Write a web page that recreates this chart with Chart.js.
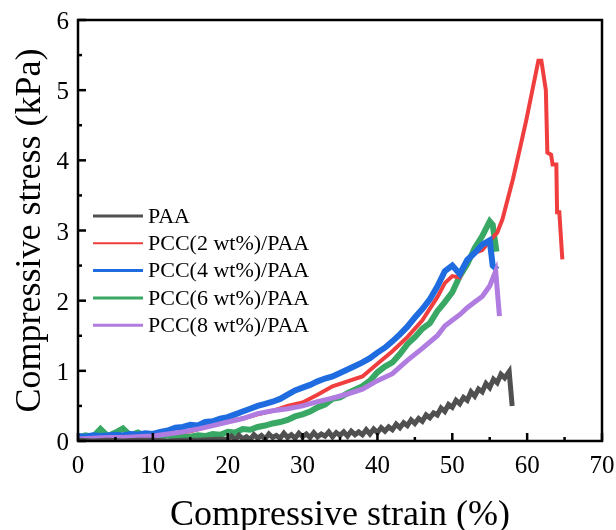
<!DOCTYPE html>
<html>
<head>
<meta charset="utf-8">
<script src="https://cdn.jsdelivr.net/npm/chart.js@4/dist/chart.umd.min.js"></script>
<style>
  html, body { margin: 0; padding: 0; background: #fff; }
  #box { width: 616px; height: 530px; }
</style>
</head>
<body>
<div id="box"><canvas id="stress"></canvas></div>
<script>
const labels_series = ['PAA', 'PCC(2 wt%)/PAA', 'PCC(4 wt%)/PAA', 'PCC(6 wt%)/PAA', 'PCC(8 wt%)/PAA'];

// PAA
const strain_paa = [0, 2, 4, 6, 8, 10, 12, 14, 16, 18, 20, 20.5, 21, 21.5, 22, 22.5, 23, 23.5, 24, 24.5, 25, 25.5, 26, 26.5, 27, 27.5, 28, 28.5, 29, 29.5, 30, 30.5, 31, 31.5, 32, 32.5, 33, 33.5, 34, 34.5, 35, 35.5, 36, 36.5, 37, 37.5, 38, 38.5, 39, 39.5, 40, 40.5, 41, 41.5, 42, 42.5, 43, 43.5, 44, 44.5, 45, 45.5, 46, 46.5, 47, 47.5, 48, 48.5, 49, 49.5, 50, 50.5, 51, 51.5, 52, 52.5, 53, 53.5, 54, 54.5, 55, 55.5, 56, 56.5, 57, 57.6, 58];
const stress_paa = [0.01, 0.0, 0.01, 0.0, 0.01, 0.01, 0.0, 0.01, 0.01, 0.02, 0.03, 0.07, 0.02, 0.08, 0.03, 0.06, 0.02, 0.09, 0.04, 0.08, 0.03, 0.1, 0.05, 0.08, 0.04, 0.11, 0.05, 0.09, 0.04, 0.11, 0.06, 0.1, 0.05, 0.12, 0.06, 0.1, 0.07, 0.13, 0.06, 0.12, 0.08, 0.13, 0.07, 0.14, 0.09, 0.13, 0.09, 0.16, 0.1, 0.17, 0.12, 0.19, 0.14, 0.2, 0.16, 0.24, 0.19, 0.26, 0.22, 0.3, 0.25, 0.32, 0.28, 0.37, 0.33, 0.4, 0.37, 0.47, 0.42, 0.52, 0.48, 0.58, 0.53, 0.62, 0.58, 0.7, 0.64, 0.74, 0.7, 0.82, 0.76, 0.88, 0.83, 0.95, 0.9, 0.99, 0.5];

// PCC(2 wt%)/PAA
const strain_pcc2 = [0, 5, 10, 15, 20, 22, 24, 26, 28, 30, 32, 34, 36, 38, 40, 42, 44, 46, 48, 49, 50, 51, 52, 53, 54, 55, 56, 56.7, 58.1, 59, 59.9, 60.7, 61.5, 61.9, 62.5, 62.7, 63.2, 63.4, 63.9, 64.0, 64.3, 64.7];
const stress_pcc2 = [0.05, 0.06, 0.08, 0.14, 0.28, 0.32, 0.38, 0.43, 0.5, 0.55, 0.66, 0.78, 0.85, 0.92, 1.1, 1.28, 1.48, 1.72, 2.05, 2.25, 2.35, 2.33, 2.58, 2.68, 2.72, 2.85, 2.97, 3.16, 3.73, 4.15, 4.58, 5.0, 5.42, 5.42, 5.0, 4.11, 4.08, 3.94, 3.94, 3.26, 3.26, 2.59];

// PCC(4 wt%)/PAA
const strain_pcc4 = [0, 1, 2, 3, 4, 5, 6, 7, 8, 9, 10, 11, 12, 13, 14, 15, 16, 17, 18, 19, 20, 21, 22, 23, 24, 25, 26, 27, 28, 29, 30, 31, 32, 33, 34, 35, 36, 37, 38, 39, 40, 41, 42, 43, 44, 45, 46, 47, 48, 49, 50, 51, 52, 53, 54, 55, 55.4, 56];
const stress_pcc4 = [0.07, 0.06, 0.08, 0.07, 0.08, 0.09, 0.08, 0.1, 0.09, 0.11, 0.1, 0.13, 0.15, 0.19, 0.2, 0.23, 0.22, 0.27, 0.28, 0.32, 0.34, 0.38, 0.42, 0.46, 0.5, 0.53, 0.56, 0.6, 0.66, 0.72, 0.76, 0.8, 0.85, 0.89, 0.92, 0.97, 1.02, 1.07, 1.12, 1.18, 1.26, 1.33, 1.42, 1.52, 1.63, 1.76, 1.88, 2.02, 2.2, 2.42, 2.5, 2.38, 2.58, 2.68, 2.8, 2.86, 2.5, 2.44];

// PCC(6 wt%)/PAA
const strain_pcc6 = [0, 1, 2, 3, 4, 5, 6, 7, 8, 9, 10, 11, 12, 13, 14, 15, 16, 17, 18, 19, 20, 21, 22, 23, 24, 25, 26, 27, 28, 29, 30, 31, 32, 33, 34, 35, 36, 37, 38, 39, 40, 41, 42, 43, 44, 45, 46, 47, 48, 49, 50, 51, 52, 53, 54, 55, 55.4, 55.9];
const stress_pcc6 = [0.05, 0.08, 0.06, 0.17, 0.07, 0.12, 0.18, 0.08, 0.12, 0.07, 0.1, 0.06, 0.08, 0.05, 0.07, 0.06, 0.08, 0.07, 0.1, 0.09, 0.13, 0.12, 0.17, 0.16, 0.2, 0.22, 0.25, 0.27, 0.3, 0.35, 0.38, 0.42, 0.48, 0.52, 0.6, 0.62, 0.68, 0.73, 0.78, 0.86, 0.98, 1.06, 1.12, 1.24, 1.38, 1.48, 1.6, 1.68, 1.85, 1.98, 2.12, 2.35, 2.52, 2.75, 2.92, 3.13, 3.08, 2.7];

// PCC(8 wt%)/PAA
const strain_pcc8 = [0, 2, 4, 6, 8, 10, 12, 14, 16, 18, 20, 22, 24, 26, 28, 30, 32, 34, 36, 38, 40, 42, 44, 46, 48, 49, 50, 51, 52, 53, 54, 55, 55.8, 56.3];
const stress_pcc8 = [0.03, 0.04, 0.05, 0.05, 0.06, 0.07, 0.1, 0.13, 0.17, 0.22, 0.27, 0.32, 0.39, 0.43, 0.46, 0.5, 0.56, 0.61, 0.67, 0.74, 0.86, 0.96, 1.15, 1.32, 1.5, 1.64, 1.72, 1.8, 1.9, 1.98, 2.06, 2.21, 2.42, 1.78];

const x_ticks = [0, 10, 20, 30, 40, 50, 60, 70];
const y_ticks = [0, 1, 2, 3, 4, 5, 6];

const colors = ['rgb(80, 80, 80)', 'rgb(240, 62, 62)', 'rgb(30, 108, 224)', 'rgb(56, 168, 100)', 'rgb(176, 124, 224)'];
const widths = [5, 4, 6, 6, 5];
const orders = [0, 3, 2, 4, 1];

const strains = [strain_paa, strain_pcc2, strain_pcc4, strain_pcc6, strain_pcc8];
const stresses = [stress_paa, stress_pcc2, stress_pcc4, stress_pcc6, stress_pcc8];

const serif = '"Liberation Serif", "Times New Roman", serif';
Chart.defaults.font.family = serif;
Chart.defaults.color = '#000';

// axes frame, inner ticks, tick labels and legend drawn by hand
const frameAndLegend = {
  id: 'frameAndLegend',
  afterDraw(chart) {
    const ctx = chart.ctx;
    const a = chart.chartArea;
    const xs = chart.scales.x, ys = chart.scales.y;
    ctx.save();
    ctx.strokeStyle = '#000';
    ctx.lineWidth = 2.5;
    ctx.strokeRect(a.left, a.top, a.right - a.left, a.bottom - a.top);
    for (let v = 0; v <= 70; v += 5) {
      const px = xs.getPixelForValue(v);
      const len = v % 10 === 0 ? 8 : 4;
      ctx.beginPath(); ctx.moveTo(px, a.bottom); ctx.lineTo(px, a.bottom - len); ctx.stroke();
    }
    for (let v = 0; v <= 6; v += 0.5) {
      const py = ys.getPixelForValue(v);
      const len = Number.isInteger(v) ? 8 : 4;
      ctx.beginPath(); ctx.moveTo(a.left, py); ctx.lineTo(a.left + len, py); ctx.stroke();
    }
    ctx.fillStyle = '#000';
    ctx.font = '25px ' + serif;
    ctx.textBaseline = 'alphabetic';
    ctx.textAlign = 'center';
    x_ticks.forEach(v => ctx.fillText(String(v), xs.getPixelForValue(v), a.bottom + 32));
    ctx.textAlign = 'right';
    y_ticks.forEach(v => ctx.fillText(String(v), a.left - 9, ys.getPixelForValue(v) + 9));
    // legend
    ctx.textAlign = 'left';
    ctx.font = '22px ' + serif;
    ctx.textBaseline = 'middle';
    const legendWidths = [3, 2, 3, 3, 3];
    labels_series.forEach((lab, i) => {
      const y = 216 + i * 27.3;
      ctx.strokeStyle = colors[i];
      ctx.lineWidth = legendWidths[i];
      ctx.beginPath(); ctx.moveTo(93, y); ctx.lineTo(143, y); ctx.stroke();
      ctx.fillText(lab, 148, y + 1);
    });
    ctx.restore();
  }
};

const config_stress = {
  type: 'line',
  data: {
    datasets: labels_series.map((lab, i) => ({
      label: lab,
      data: strains[i].map((x, j) => ({ x: x, y: stresses[i][j] })),
      borderColor: colors[i],
      borderWidth: widths[i],
      pointRadius: 0,
      tension: 0,
      fill: false,
      order: orders[i],
    })),
  },
  options: {
    responsive: true,
    maintainAspectRatio: false,
    animation: false,
    layout: { padding: { left: 0, right: 14, top: 20, bottom: 0 } },
    plugins: {
      legend: { display: false },
      tooltip: { enabled: false },
    },
    scales: {
      x: {
        type: 'linear',
        min: 0,
        max: 70,
        afterBuildTicks: (s) => { s.ticks = x_ticks.map(v => ({ value: v })); },
        afterFit: (s) => { s.height = 89; s.paddingLeft = 0; s.paddingRight = 0; },
        grid: { display: false, drawTicks: false },
        border: { display: false },
        ticks: { display: false },
        title: { display: true, text: 'Compressive strain (%)', font: { family: serif, size: 36, lineHeight: 0.8 }, padding: 0 },
      },
      y: {
        type: 'linear',
        min: 0,
        max: 6,
        afterBuildTicks: (s) => { s.ticks = y_ticks.map(v => ({ value: v })); },
        afterFit: (s) => { s.width = 78; s.paddingTop = 0; s.paddingBottom = 0; },
        grid: { display: false, drawTicks: false },
        border: { display: false },
        ticks: { display: false },
        title: { display: true, text: 'Compressive stress (kPa)', font: { family: serif, size: 36, lineHeight: 1.2 }, padding: { top: 9, bottom: 0 } },
      },
    },
  },
  plugins: [frameAndLegend],
};

const myStress = new Chart(document.getElementById('stress'), config_stress);
</script>
</body>
</html>
